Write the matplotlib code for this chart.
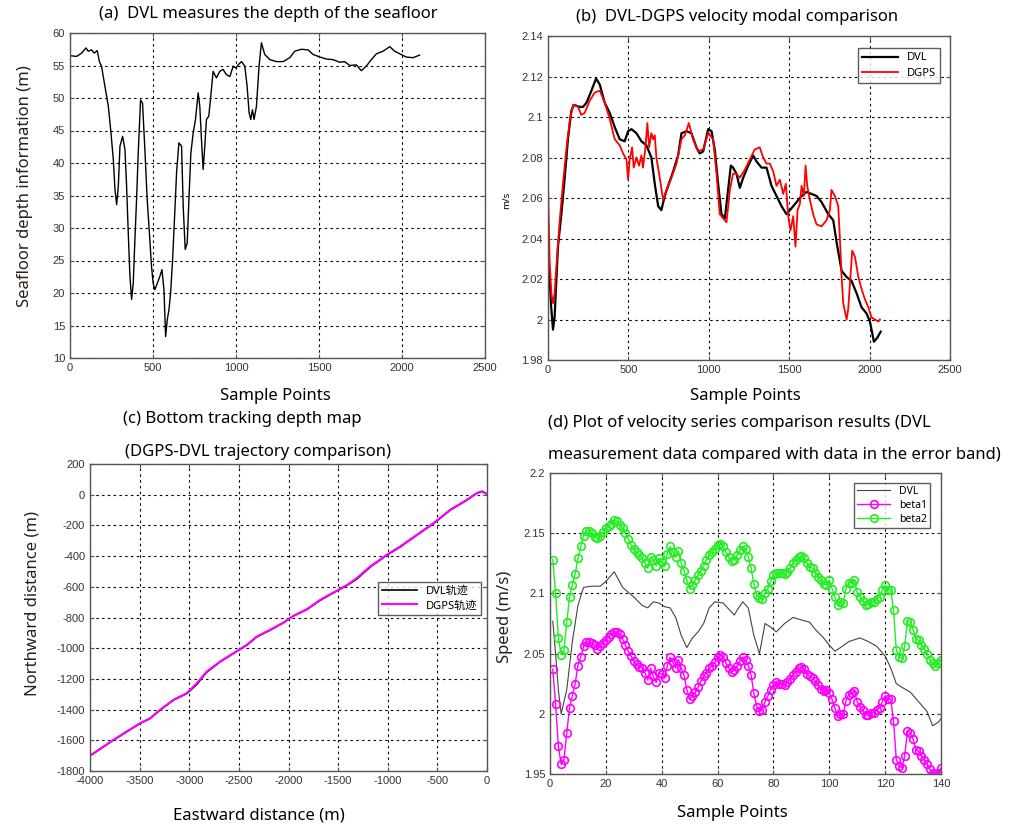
import numpy as np
import matplotlib
matplotlib.use('Agg')
import matplotlib.pyplot as plt
from matplotlib.ticker import FuncFormatter

plt.rcParams['font.family'] = ['Noto Sans', 'Noto Sans CJK SC', 'DejaVu Sans']
plt.rcParams['axes.unicode_minus'] = False

# (a) seafloor depth
depth_x = [4, 40, 70, 96, 110, 130, 146, 164, 177, 190, 205, 217, 231, 247, 261, 271, 281, 291,
           301, 317, 331, 341, 351, 361, 371, 381, 391, 401, 411, 425, 437, 451, 465, 481, 491,
           501, 511, 526, 542, 554, 566, 576, 586, 596, 606, 618, 632, 642, 656, 672, 682, 694,
           706, 718, 728, 742, 756, 772, 782, 792, 802, 812, 822, 836, 846, 862, 882, 902, 922,
           942, 963, 983, 999, 1013, 1033, 1053, 1067, 1079, 1089, 1099, 1109, 1123, 1139, 1153,
           1173, 1204, 1244, 1284, 1324, 1354, 1394, 1434, 1464, 1505, 1545, 1585, 1625, 1655,
           1685, 1725, 1755, 1785, 1815, 1846, 1886, 1926, 1956, 1986, 2026, 2066, 2106]
depth_y = [56.5, 56.4, 56.9, 57.7, 57.2, 57.4, 56.9, 57.3, 55.6, 54.9, 52.6, 50.8, 48.7, 44.6,
           40.5, 35.9, 33.6, 36.4, 42.6, 44.1, 42.1, 36.4, 29.2, 22.6, 19.0, 21.5, 28.2, 34.4,
           41.5, 49.7, 49.2, 42.1, 34.4, 28.2, 24.1, 21.5, 20.5, 21.5, 22.6, 23.6, 20.5, 13.3,
           15.9, 17.4, 20.0, 25.1, 32.8, 38.5, 43.1, 42.6, 33.3, 26.7, 27.7, 35.4, 41.5, 44.6,
           46.7, 50.8, 48.7, 43.6, 39.0, 42.6, 46.7, 47.2, 49.7, 54.1, 53.1, 54.1, 54.4, 53.6,
           53.3, 54.9, 54.6, 55.1, 55.6, 54.9, 51.8, 47.7, 46.7, 48.2, 46.7, 48.7, 54.9, 58.5,
           56.7, 55.9, 55.6, 55.6, 56.2, 57.2, 57.5, 57.4, 56.7, 56.3, 56.0, 55.9, 55.5, 55.6,
           55.0, 55.1, 54.2, 54.9, 55.9, 56.8, 57.2, 57.9, 57.2, 56.8, 56.3, 56.2, 56.6]

# (b) velocity modulus
dvl_b_x = [4, 20, 31, 41, 62, 83, 104, 124, 145, 160, 197, 218, 239, 270, 299, 322, 353, 384,
           415, 446, 477, 498, 519, 550, 581, 612, 643, 664, 685, 705, 726, 747, 778, 809, 830,
           861, 892, 923, 944, 965, 996, 1017, 1037, 1058, 1079, 1100, 1120, 1137, 1151, 1172,
           1193, 1214, 1245, 1276, 1297, 1328, 1359, 1390, 1421, 1452, 1483, 1515, 1546, 1577,
           1608, 1639, 1670, 1701, 1743, 1774, 1795, 1826, 1857, 1888, 1919, 1950, 1981, 2002,
           2027, 2048, 2069]
dvl_b_y = [2.029, 2.006, 1.995, 2.001, 2.036, 2.052, 2.070, 2.089, 2.103, 2.106, 2.105, 2.105,
           2.107, 2.113, 2.119, 2.116, 2.107, 2.102, 2.095, 2.089, 2.088, 2.093, 2.094, 2.092,
           2.088, 2.086, 2.080, 2.067, 2.056, 2.054, 2.061, 2.066, 2.073, 2.081, 2.092, 2.093,
           2.092, 2.085, 2.082, 2.083, 2.094, 2.093, 2.084, 2.067, 2.052, 2.050, 2.064, 2.076,
           2.075, 2.072, 2.065, 2.070, 2.076, 2.081, 2.078, 2.075, 2.075, 2.066, 2.061, 2.056,
           2.052, 2.055, 2.058, 2.061, 2.063, 2.062, 2.061, 2.058, 2.052, 2.049, 2.038, 2.024,
           2.021, 2.019, 2.013, 2.006, 2.003, 1.999, 1.989, 1.991, 1.994]
dgps_b_x = [0, 10, 21, 31, 41, 52, 73, 93, 114, 135, 156, 187, 207, 228, 259, 290, 322, 353,
            384, 415, 446, 467, 488, 498, 508, 523, 533, 550, 566, 581, 591, 606, 618, 629,
            643, 654, 664, 674, 695, 716, 737, 768, 799, 830, 851, 876, 902, 933, 965, 996,
            1027, 1048, 1068, 1089, 1110, 1131, 1151, 1172, 1193, 1224, 1255, 1286, 1317, 1338,
            1359, 1380, 1401, 1421, 1442, 1463, 1479, 1494, 1508, 1525, 1539, 1552, 1566, 1577,
            1591, 1602, 1612, 1629, 1649, 1670, 1701, 1732, 1753, 1763, 1784, 1805, 1816, 1826,
            1836, 1857, 1867, 1878, 1892, 1909, 1930, 1950, 1971, 1992, 2012, 2033, 2054, 2064]
dgps_b_y = [2.067, 2.029, 2.013, 2.008, 2.013, 2.026, 2.049, 2.067, 2.084, 2.098, 2.106, 2.105,
            2.101, 2.102, 2.108, 2.112, 2.113, 2.107, 2.099, 2.089, 2.086, 2.082, 2.079, 2.069,
            2.079, 2.085, 2.075, 2.080, 2.076, 2.081, 2.075, 2.085, 2.097, 2.085, 2.092, 2.089,
            2.091, 2.080, 2.070, 2.059, 2.064, 2.070, 2.077, 2.089, 2.091, 2.097, 2.089, 2.083,
            2.084, 2.092, 2.089, 2.072, 2.052, 2.050, 2.048, 2.064, 2.072, 2.072, 2.070, 2.074,
            2.079, 2.084, 2.085, 2.080, 2.077, 2.077, 2.073, 2.066, 2.069, 2.062, 2.067, 2.051,
            2.044, 2.051, 2.036, 2.054, 2.057, 2.066, 2.061, 2.076, 2.066, 2.059, 2.052, 2.047,
            2.046, 2.049, 2.054, 2.064, 2.061, 2.056, 2.039, 2.021, 2.008, 2.000, 2.005, 2.018,
            2.034, 2.031, 2.021, 2.015, 2.010, 2.006, 2.001, 2.000, 1.999, 2.000]

# (c) trajectories
dgps_c_e = [-4000, -3765, -3630, -3496, -3395, -3294, -3160, -3025, -2924, -2824, -2689, -2555,
            -2420, -2319, -2185, -2050, -1950, -1815, -1681, -1546, -1412, -1311, -1176, -1008,
            -874, -706, -538, -370, -202, -101, -50, 0]
dgps_c_n = [-1700, -1598, -1543, -1489, -1457, -1402, -1337, -1293, -1228, -1152, -1087, -1033,
            -978, -924, -880, -833, -789, -746, -685, -637, -589, -543, -467, -391, -337, -261,
            -185, -98, -33, 11, 22, 4]
dvl_c_e = [-4000, -3765, -3630, -3496, -3395, -3294, -3160, -3025, -2924, -2824, -2689, -2555,
           -2420, -2319, -2185, -2050, -1950, -1815, -1681, -1546, -1412, -1311, -1176, -1008,
           -874, -706, -538, -370, -202, -101, -50, 0]
dvl_c_n = [-1701, -1599, -1544, -1490, -1458, -1403, -1338, -1296, -1236, -1156, -1089, -1034,
           -980, -926, -882, -834, -790, -748, -688, -639, -591, -549, -471, -393, -340, -263,
           -188, -100, -35, 10, 21, 4]

# (d) error band comparison
dvl_d_x = [1, 2, 3, 4, 6, 8, 10, 12, 15, 18, 20, 23, 26, 30, 33, 35, 37, 39, 41, 43, 45, 47, 49,
           51, 53, 55, 57, 59, 62, 64, 66, 67, 69, 71, 73, 75, 77, 79, 81, 84, 87, 90, 93, 95,
           98, 100, 102, 104, 107, 111, 114, 117, 120, 122, 124, 126, 129, 132, 135, 137, 139, 140]
dvl_d_y = [2.077, 2.05, 2.02, 2.0, 2.02, 2.06, 2.09, 2.105, 2.106, 2.106, 2.11, 2.118, 2.105,
           2.097, 2.09, 2.088, 2.093, 2.092, 2.089, 2.088, 2.08, 2.065, 2.055, 2.063, 2.068, 2.075,
           2.088, 2.093, 2.092, 2.087, 2.082, 2.086, 2.093, 2.088, 2.065, 2.05, 2.075, 2.072,
           2.068, 2.075, 2.08, 2.078, 2.076, 2.07, 2.063, 2.057, 2.052, 2.055, 2.06, 2.063, 2.06,
           2.056, 2.048, 2.038, 2.025, 2.022, 2.018, 2.01, 2.002, 1.99, 1.993, 1.996]
beta_x = list(range(1, 141))
beta1 = [2.037, 2.008, 1.973, 1.958, 1.962, 1.984, 2.005, 2.015, 2.025, 2.04,
         2.047, 2.056, 2.06, 2.06, 2.059, 2.057, 2.054, 2.056, 2.059, 2.061,
         2.064, 2.066, 2.068, 2.068, 2.066, 2.062, 2.057, 2.052, 2.048, 2.044,
         2.041, 2.039, 2.038, 2.034, 2.028, 2.038, 2.031, 2.026, 2.034, 2.033,
         2.03, 2.04, 2.047, 2.043, 2.038, 2.045, 2.038, 2.032, 2.02, 2.012,
         2.015, 2.018, 2.022, 2.027, 2.031, 2.034, 2.038, 2.04, 2.043, 2.047,
         2.049, 2.047, 2.042, 2.038, 2.035, 2.036, 2.04, 2.044, 2.047, 2.045,
         2.04, 2.032, 2.017, 2.006, 2.002, 2.003, 2.01, 2.015, 2.02, 2.024,
         2.026, 2.025, 2.025, 2.024, 2.026, 2.029, 2.032, 2.035, 2.038, 2.039,
         2.037, 2.033, 2.031, 2.03, 2.027, 2.024, 2.021, 2.019, 2.02, 2.017,
         2.012, 2.005, 1.998, 2.0, 2.0, 2.011, 2.016, 2.017, 2.019, 2.01,
         2.006, 2.003, 1.999, 1.999, 2.001, 2.001, 2.003, 2.005, 2.01, 2.015,
         2.012, 2.012, 1.994, 1.962, 1.957, 1.955, 1.965, 1.986, 1.984, 1.979,
         1.97, 1.969, 1.965, 1.962, 1.958, 1.954, 1.951, 1.95, 1.951, 1.955]
beta2 = [2.128, 2.1, 2.063, 2.049, 2.053, 2.076, 2.097, 2.107, 2.116, 2.129,
         2.139, 2.148, 2.152, 2.152, 2.15, 2.147, 2.146, 2.148, 2.151, 2.154,
         2.156, 2.158, 2.161, 2.16, 2.157, 2.154, 2.15, 2.145, 2.14, 2.137,
         2.134, 2.132, 2.129, 2.125, 2.121, 2.13, 2.128, 2.123, 2.129, 2.126,
         2.123, 2.133, 2.139, 2.134, 2.13, 2.135, 2.125, 2.119, 2.111, 2.104,
         2.107, 2.111, 2.115, 2.119, 2.123, 2.128, 2.132, 2.134, 2.137, 2.14,
         2.141, 2.139, 2.134, 2.13, 2.127, 2.128, 2.132, 2.136, 2.139, 2.137,
         2.13, 2.121, 2.108, 2.099, 2.096, 2.095, 2.1, 2.104, 2.11, 2.115,
         2.117, 2.117, 2.117, 2.116, 2.118, 2.121, 2.125, 2.128, 2.13, 2.131,
         2.129, 2.125, 2.122, 2.121, 2.117, 2.114, 2.111, 2.108, 2.107, 2.111,
         2.104, 2.097, 2.09, 2.093, 2.092, 2.104, 2.109, 2.109, 2.111, 2.101,
         2.097, 2.094, 2.09, 2.091, 2.093, 2.093, 2.095, 2.097, 2.103, 2.107,
         2.103, 2.103, 2.086, 2.053, 2.047, 2.046, 2.056, 2.077, 2.076, 2.07,
         2.062, 2.061, 2.057, 2.054, 2.05, 2.045, 2.042, 2.04, 2.042, 2.045]

W, H = 1031, 825
TFS = 12


def box(l, t, r, b):
    return [l / W, 1 - b / H, (r - l) / W, (b - t) / H]


def ftxt(x, y, s, **kw):
    fig.text(x / W, 1 - y / H, s, **kw)


def matlab_axes(ax):
    ax.tick_params(direction='in', top=True, right=True, length=3, labelsize=8,
                   labelcolor='#333333', color='#555555')
    for lab in ax.get_xticklabels() + ax.get_yticklabels():
        lab.set_family(['Liberation Sans', 'DejaVu Sans'])
    ax.grid(True, color='black', linestyle=(0, (2.2, 3)), linewidth=0.8)
    for sp in ax.spines.values():
        sp.set_color('#555555')
        sp.set_linewidth(1.0)


def legend_box(ax, **kw):
    leg = ax.legend(loc='upper right', frameon=True, fancybox=False, handlelength=3.2, **kw)
    leg.get_frame().set_edgecolor('#333333')
    leg.get_frame().set_linewidth(1.0)
    return leg


gfmt = FuncFormatter(lambda v, p: '%g' % round(v, 4))
fig = plt.figure(figsize=(W / 100, H / 100), dpi=100)

# (a)
ax1 = fig.add_axes(box(70, 33, 485, 358))
ax1.plot(depth_x, depth_y, color='black', lw=1.0)
ax1.set_xlim(0, 2500)
ax1.set_ylim(10, 60)
ax1.set_xticks(np.arange(0, 2501, 500))
ax1.set_yticks(np.arange(10, 61, 5))
matlab_axes(ax1)
ftxt(268, 14, '(a)  DVL measures the depth of the seafloor', ha='center', va='center', fontsize=TFS)
ftxt(275, 396, 'Sample Points', ha='center', va='center', fontsize=TFS)
ftxt(25, 186, 'Seafloor depth information (m)', ha='center', va='center', rotation=90,
     fontsize=TFS, color='#2a2018')

# (b)
ax2 = fig.add_axes(box(548, 36, 950, 360))
ax2.plot(dvl_b_x, dvl_b_y, color='black', lw=1.6, label='DVL')
ax2.plot(dgps_b_x, dgps_b_y, color='red', lw=1.3, label='DGPS')
ax2.set_xlim(0, 2500)
ax2.set_ylim(1.98, 2.14)
ax2.set_xticks(np.arange(0, 2501, 500))
ax2.set_yticks(np.arange(1.98, 2.141, 0.02))
ax2.yaxis.set_major_formatter(gfmt)
matlab_axes(ax2)
legend_box(ax2, fontsize=8, borderpad=0.4, labelspacing=0.4, bbox_to_anchor=(0.99, 0.98))
ftxt(737, 17, '(b)  DVL-DGPS velocity modal comparison', ha='center', va='center', fontsize=TFS)
ftxt(745, 396, 'Sample Points', ha='center', va='center', fontsize=TFS)
ftxt(507, 200, 'm/s', ha='center', va='center', rotation=90, fontsize=7)

# (c)
ax3 = fig.add_axes(box(90, 464, 487, 771))
ax3.plot(dvl_c_e, dvl_c_n, color='black', lw=1.2, label='DVL轨迹')
ax3.plot(dgps_c_e, dgps_c_n, color='#ff00ff', lw=1.5, label='DGPS轨迹')
ax3.set_xlim(-4000, 0)
ax3.set_ylim(-1800, 200)
ax3.set_xticks(np.arange(-4000, 1, 500))
ax3.set_yticks(np.arange(-1800, 201, 200))
matlab_axes(ax3)
legend_box(ax3, fontsize=8, borderpad=0.35, labelspacing=0.35, bbox_to_anchor=(1.0, 0.635))
ftxt(242, 419, '(c) Bottom tracking depth map', ha='center', va='center', fontsize=TFS)
ftxt(258, 452, '(DGPS-DVL trajectory comparison)', ha='center', va='center', fontsize=TFS)
ftxt(259, 815, 'Eastward distance (m)', ha='center', va='center', fontsize=TFS)
ftxt(33, 603, 'Northward distance (m)', ha='center', va='center', rotation=90,
     fontsize=TFS, color='#2a2018')

# (d)
ax4 = fig.add_axes(box(550, 473, 941, 774))
ax4.plot(dvl_d_x, dvl_d_y, color='#444444', lw=0.8, label='DVL')
ax4.plot(beta_x, beta1, color='#ff00ff', lw=1.0, marker='o', markersize=5.5,
         markerfacecolor='none', markeredgewidth=1.2, label='beta1')
ax4.plot(beta_x, beta2, color='#22ee22', lw=1.0, marker='o', markersize=5.5,
         markerfacecolor='none', markeredgewidth=1.2, label='beta2')
ax4.set_xlim(0, 140)
ax4.set_ylim(1.95, 2.2)
ax4.set_xticks(np.arange(0, 141, 20))
ax4.set_yticks(np.arange(1.95, 2.201, 0.05))
ax4.yaxis.set_major_formatter(gfmt)
matlab_axes(ax4)
legend_box(ax4, fontsize=7.5, borderpad=0.3, labelspacing=0.3, bbox_to_anchor=(0.985, 0.985))
ftxt(548, 423, '(d) Plot of velocity series comparison results (DVL', ha='left', va='center',
     fontsize=TFS)
ftxt(548, 455, 'measurement data compared with data in the error band)', ha='left', va='center',
     fontsize=TFS)
ftxt(732, 813, 'Sample Points', ha='center', va='center', fontsize=TFS)
ftxt(505, 617, 'Speed (m/s)', ha='center', va='center', rotation=90, fontsize=TFS,
     color='#2a2018')

fig.savefig('out.png', dpi=100)
